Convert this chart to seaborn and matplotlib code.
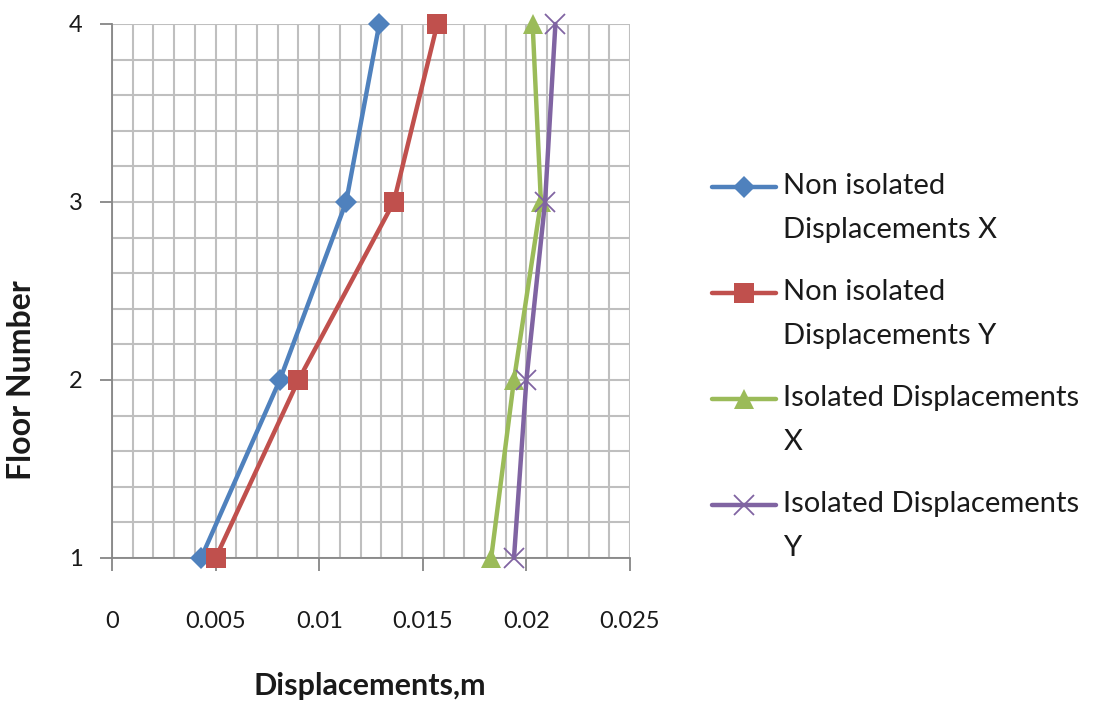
import numpy as np
import pandas as pd
import matplotlib
matplotlib.use("Agg")
import matplotlib.pyplot as plt
from matplotlib.ticker import MultipleLocator
import seaborn as sns

floors = [1, 2, 3, 4]
non_iso_x = [0.0043, 0.0081, 0.0113, 0.0129]
non_iso_y = [0.0050, 0.0090, 0.0136, 0.0157]
iso_x = [0.0183, 0.0194, 0.0207, 0.0203]
iso_y = [0.0194, 0.0200, 0.0209, 0.0214]
series_names = ["Non isolated\nDisplacements X", "Non isolated\nDisplacements Y",
                "Isolated Displacements\nX", "Isolated Displacements\nY"]
x_ticks = [0, 0.005, 0.01, 0.015, 0.02, 0.025]
x_tick_labels = ["0", "0.005", "0.01", "0.015", "0.02", "0.025"]

colors = ["#4F81BD", "#C0504D", "#9BBB59", "#8064A2"]
markers = ["D", "s", "^", "x"]
msizes = [11, 15, 15, 15]

sns.set_style("white")
plt.rcParams["font.family"] = ["Lato", "DejaVu Sans"]

fig = plt.figure(figsize=(10.94, 7.04), dpi=100)
ax = fig.add_axes([112 / 1094, 1 - 558 / 704, 518 / 1094, 534 / 704])

all_series = [non_iso_x, non_iso_y, iso_x, iso_y]
for vals, name, c, m, ms in zip(all_series, series_names, colors, markers, msizes):
    df = pd.DataFrame({"disp": vals, "floor": floors})
    kw = dict(markeredgecolor=c, markeredgewidth=0) if m != "x" else dict(markeredgecolor=c, markeredgewidth=1.3)
    sns.lineplot(data=df, x="disp", y="floor", sort=False, estimator=None, color=c,
                 marker=m, markersize=ms, linewidth=3.2, label=name, ax=ax,
                 clip_on=False, zorder=3, **kw)

ax.set_xlim(0, 0.025)
ax.set_ylim(1, 4)
ax.set_xticks(x_ticks)
ax.set_xticklabels(x_tick_labels)
ax.set_yticks(floors)
ax.xaxis.set_minor_locator(MultipleLocator(0.001))
ax.yaxis.set_minor_locator(MultipleLocator(0.2))
ax.grid(True, which="both", color="#BFBFBF", linewidth=1.5)
ax.set_axisbelow(True)
ax.tick_params(axis="both", which="minor", length=0)
ax.tick_params(axis="x", which="major", direction="out", length=9, width=1.3,
               color="#868686", labelsize=17, labelcolor="#1a1a1a", pad=29, bottom=True)
ax.tick_params(axis="y", which="major", direction="out", length=9, width=1.3,
               color="#868686", labelsize=17, labelcolor="#1a1a1a", pad=12, left=True)
for s in ["top", "right"]:
    ax.spines[s].set_visible(False)
for s in ["left", "bottom"]:
    ax.spines[s].set_color("#868686")
    ax.spines[s].set_linewidth(1.3)

ax.set_xlabel("Displacements,m", fontsize=22, fontweight="bold", color="#1a1a1a")
ax.set_ylabel("Floor Number", fontsize=23, fontweight="bold", color="#1a1a1a")
ax.xaxis.label.set_va("center")
ax.yaxis.label.set_va("center")
ax.xaxis.set_label_coords(0.498, (558 - 686) / 534)
ax.yaxis.set_label_coords((22 - 112) / 518, (558 - 380) / 534)

handles, labels = ax.get_legend_handles_labels()
ax.get_legend().remove()
fs = 21
ls = 1.84
leg = fig.legend(handles, labels, loc="upper left", bbox_to_anchor=(712 / 1094, 1 - 173 / 704),
                 frameon=False, fontsize=fs, handlelength=2.2, handletextpad=0.25,
                 labelspacing=1.25, borderaxespad=0, borderpad=0)
for t in leg.get_texts():
    t.set_linespacing(ls)
    t.set_color("#1a1a1a")
shift = 21.5 * 72 / 100
for h in leg.legend_handles:
    y = np.asarray(h.get_ydata(), dtype=float)
    h.set_ydata(y + shift)

fig.savefig("out.png", dpi=100)
